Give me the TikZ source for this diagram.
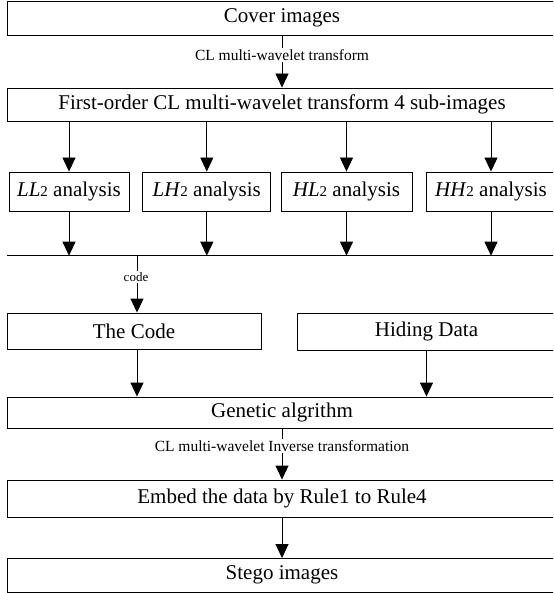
\documentclass[tikz,border=0pt]{standalone}
\usepackage{fontspec}
\setmainfont{Liberation Serif}
\usetikzlibrary{arrows.meta}
\begin{document}
\begin{tikzpicture}[x=1pt,y=-1pt,
  box/.style={draw=black, line width=0.9pt, inner sep=0pt, anchor=center, font=\fontsize{21}{21}\selectfont},
  arr/.style={draw=black, line width=0.9pt, -{Triangle[length=14pt,width=13pt]}},
  plain/.style={draw=black, line width=0.9pt},
  lbl/.style={fill=white, inner sep=1.5pt, font=\fontsize{15.5}{15.5}\selectfont},
  smalllbl/.style={fill=white, inner sep=1.5pt, font=\fontsize{13}{13}\selectfont}
  ]
\clip (0,0) rectangle (553,593);
\newcommand{\dg}{{\fontsize{15}{15}\selectfont 2}}
% full-width boxes
\node[box, minimum width=549pt, minimum height=34pt] (cover) at (282,18) {Cover images};
\node[box, minimum width=549pt, minimum height=33pt] (first) at (282,104.5) {First-order CL multi-wavelet transform 4 sub-images};
% analysis boxes
\node[box, minimum width=120pt, minimum height=39.5pt] (ll) at (69,191.75) {\textit{LL}\dg{} analysis};
\node[box, minimum width=128pt, minimum height=39.5pt] (lh) at (206.8,191.75) {\textit{LH}\dg{} analysis};
\node[box, minimum width=131pt, minimum height=39.5pt] (hl) at (346.5,191.75) {\textit{HL}\dg{} analysis};
\node[box, minimum width=130pt, minimum height=39.5pt] (hh) at (491,191.75) {\textit{HH}\dg{} analysis};
% code / hiding
\node[box, minimum width=254pt, minimum height=36.5pt] (thecode) at (134,331.25) {The Code};
\node[box, minimum width=259pt, minimum height=37pt] (hiding) at (426.5,331.5) {Hiding Data};
\node[box, minimum width=549pt, minimum height=31pt] (genetic) at (282,412.5) {Genetic algrithm};
\node[box, minimum width=549pt, minimum height=37.5pt] (embed) at (282,498.75) {Embed the data by Rule1 to Rule4};
\node[box, minimum width=549pt, minimum height=33.5pt] (stego) at (282,575.25) {Stego images};
% connectors
\draw[arr] (cover.south) -- (first.north);
\node[lbl] (t1) at (282,55) {CL multi-wavelet transform};
\foreach \b in {ll,lh,hl,hh}{
  \draw[arr] (first.south -| \b.north) -- (\b.north);
}
\coordinate (busL) at (7,255.7);
\coordinate (busR) at (556,255.7);
\draw[plain] (busL) -- (busR);
\foreach \b in {ll,lh,hl,hh}{
  \draw[arr] (\b.south) -- (\b.south |- busL);
}
\coordinate (codex) at (137,255.7);
\draw[arr] (codex) -- (codex |- thecode.north);
\node[smalllbl] (t2) at (136,277) {code};
\draw[arr] (thecode.south -| codex) -- (codex |- genetic.north);
\draw[arr] (hiding.south) -- (hiding.south |- genetic.north);
\draw[arr] (genetic.south) -- (embed.north);
\node[lbl] (t3) at (282,446) {CL multi-wavelet Inverse transformation};
\draw[arr] (embed.south) -- (stego.north);
\end{tikzpicture}
\end{document}
